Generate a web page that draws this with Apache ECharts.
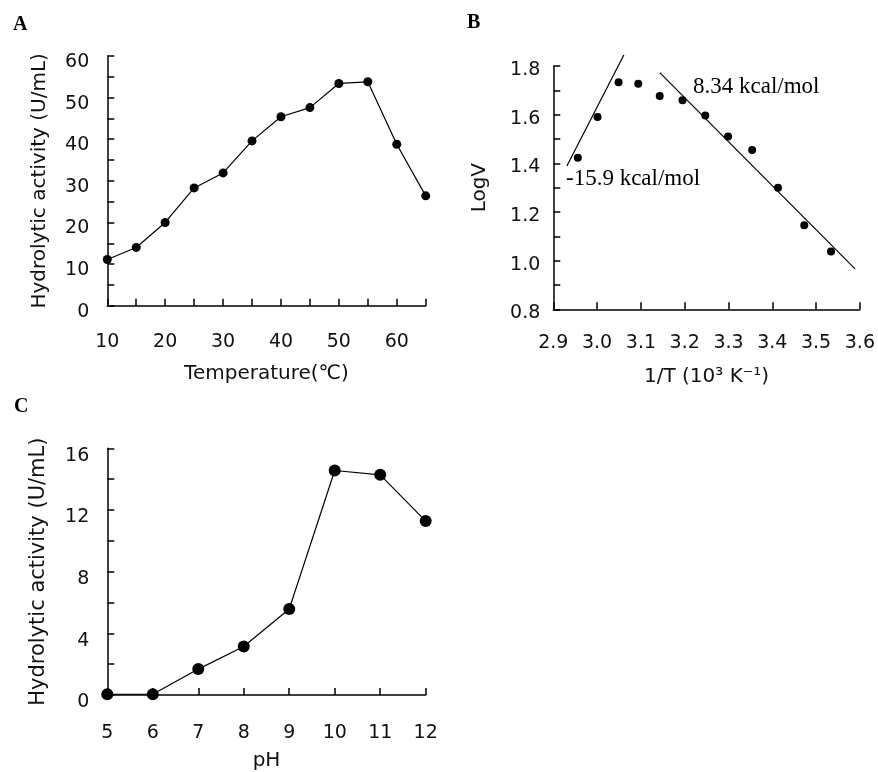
<!DOCTYPE html>
<html><head><meta charset="utf-8">
<script src="https://cdn.jsdelivr.net/npm/echarts@6/dist/echarts.min.js"></script>
<style>html,body{margin:0;padding:0;background:#fff}#c{width:878px;height:772px}</style>
</head><body><div id="c"></div>
<script>
// Panel A: temperature profile
const tempC = [10, 15, 20, 25, 30, 35, 40, 45, 50, 55, 60, 65];
const activityTemp = [11.1, 14.0, 20.0, 28.3, 31.9, 39.6, 45.4, 47.6, 53.4, 53.8, 38.8, 26.4];
// Panel B: Arrhenius plot
const invT = [2.956, 3.001, 3.049, 3.094, 3.143, 3.195, 3.247, 3.299, 3.354, 3.413, 3.473, 3.534];
const logV = [1.423, 1.590, 1.733, 1.727, 1.677, 1.659, 1.597, 1.510, 1.455, 1.300, 1.145, 1.038];
const fitLowX = [2.931, 3.061];
const fitLowY = [1.389, 1.845];
const fitHighX = [3.143, 3.589];
const fitHighY = [1.773, 0.966];
const fitLowLabel = '-15.9 kcal/mol';
const fitHighLabel = '8.34 kcal/mol';
// Panel C: pH profile
const pHValues = [5, 6, 7, 8, 9, 10, 11, 12];
const activityPH = [0.05, 0.05, 1.68, 3.14, 5.58, 14.56, 14.28, 11.28];

const SANS = 'DejaVu Sans';
const INK = '#111';

function pairs(xs, ys) { return xs.map((x, i) => [x, ys[i]]); }

function axisBase(extra) {
  return Object.assign({
    type: 'value',
    nameLocation: 'middle',
    nameTextStyle: { fontFamily: SANS, fontSize: 20, color: INK },
    axisLine: { show: true, onZero: false, lineStyle: { color: '#000', width: 1.5 } },
    axisTick: { show: true, inside: true, length: 7, lineStyle: { color: '#000', width: 1.5 } },
    axisLabel: { fontFamily: SANS, fontSize: 19, color: INK },
    splitLine: { show: false }
  }, extra);
}

const chart = echarts.init(document.getElementById('c'), null, { renderer: 'canvas' });
chart.setOption({
  backgroundColor: '#fff',
  animation: false,
  grid: [
    { left: 107.3, top: 56, width: 318.4, height: 249.7 },
    { left: 553.3, top: 66, width: 306.7, height: 243.3 },
    { left: 107.3, top: 448.3, width: 318.4, height: 248.4 }
  ],
  xAxis: [
    axisBase({ gridIndex: 0, min: 10, max: 65, interval: 5, name: 'Temperature(℃)', nameGap: 58,
      axisLabel: { fontFamily: SANS, fontSize: 19, color: INK, margin: 27,
        formatter: v => (v % 10 === 0 ? String(v) : '') } }),
    axisBase({ gridIndex: 1, min: 2.9, max: 3.6, interval: 0.1, name: '1/T (10³ K⁻¹)', nameGap: 57,
      axisLabel: { fontFamily: SANS, fontSize: 19, color: INK, margin: 24,
        formatter: v => v.toFixed(1) } }),
    axisBase({ gridIndex: 2, min: 5, max: 12, interval: 1, name: 'pH', nameGap: 56,
      axisLabel: { fontFamily: SANS, fontSize: 19, color: INK, margin: 29 } })
  ],
  yAxis: [
    axisBase({ gridIndex: 0, min: 0, max: 60, interval: 5, name: 'Hydrolytic activity (U/mL)', nameGap: 58,
      axisLabel: { fontFamily: SANS, fontSize: 19, color: INK, margin: 18, verticalAlign: 'top', lineHeight: 12,
        formatter: v => (v % 10 === 0 ? String(v) : '') } }),
    axisBase({ gridIndex: 1, min: 0.8, max: 1.8, interval: 0.1, name: 'LogV', nameGap: 64,
      axisLabel: { fontFamily: SANS, fontSize: 19, color: INK, margin: 13, verticalAlign: 'top', lineHeight: 8,
        formatter: v => (Math.round(v * 10) % 2 === 0 ? v.toFixed(1) : '') } }),
    axisBase({ gridIndex: 2, min: 0, max: 16, interval: 2, name: 'Hydrolytic activity (U/mL)', nameGap: 58,
      nameTextStyle: { fontFamily: SANS, fontSize: 21, color: INK },
      axisLabel: { fontFamily: SANS, fontSize: 19, color: INK, margin: 18, verticalAlign: 'top', lineHeight: 15,
        formatter: v => (v % 4 === 0 ? String(v) : '') } })
  ],
  series: [
    { type: 'line', xAxisIndex: 0, yAxisIndex: 0, data: pairs(tempC, activityTemp),
      symbol: 'circle', symbolSize: 9, itemStyle: { color: '#000', opacity: 1 },
      lineStyle: { color: '#000', width: 1.2 }, clip: false },
    { type: 'scatter', xAxisIndex: 1, yAxisIndex: 1, data: pairs(invT, logV),
      symbol: 'circle', symbolSize: 8, itemStyle: { color: '#000', opacity: 1 } },
    { type: 'line', xAxisIndex: 1, yAxisIndex: 1, data: pairs(fitLowX, fitLowY),
      symbol: 'none', lineStyle: { color: '#000', width: 1.2 }, clip: false },
    { type: 'line', xAxisIndex: 1, yAxisIndex: 1, data: pairs(fitHighX, fitHighY),
      symbol: 'none', lineStyle: { color: '#000', width: 1.2 }, clip: false },
    { type: 'line', xAxisIndex: 2, yAxisIndex: 2, data: pairs(pHValues, activityPH),
      symbol: 'circle', symbolSize: 12, itemStyle: { color: '#000', opacity: 1 },
      lineStyle: { color: '#000', width: 1.2 }, clip: false }
  ],
  graphic: [
    { type: 'text', left: 13, top: 15, style: { text: 'A', font: 'bold 20px "Liberation Serif"', fill: '#000' } },
    { type: 'text', left: 467, top: 13, style: { text: 'B', font: 'bold 20px "Liberation Serif"', fill: '#000' } },
    { type: 'text', left: 14, top: 397, style: { text: 'C', font: 'bold 20px "Liberation Serif"', fill: '#000' } },
    { type: 'text', left: 693, top: 75, style: { text: fitHighLabel, font: '23px "Liberation Serif"', fill: '#000' } },
    { type: 'text', left: 566, top: 167, style: { text: fitLowLabel, font: '23px "Liberation Serif"', fill: '#000' } }
  ]
});
</script>
</body></html>
